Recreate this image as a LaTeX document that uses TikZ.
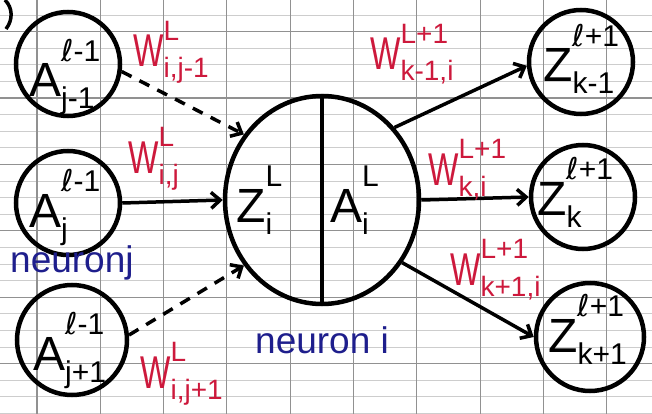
\documentclass[tikz,border=0pt]{standalone}
\usepackage{graphicx}
\usepackage{fontspec}
\setmainfont{Liberation Sans}
\newfontfamily\ellfont{DejaVu Sans}
\usetikzlibrary{arrows.meta,shapes.geometric}
\definecolor{inkred}{RGB}{205,25,60}
\definecolor{inkblue}{RGB}{30,30,140}
\definecolor{gridthin}{RGB}{205,205,205}
\definecolor{gridthick}{RGB}{145,145,145}
\newcommand\ELL{{\ellfont ℓ}}
\newcommand\nlab[3]{{\fontsize{48}{48}\selectfont #1}\raisebox{-12pt}{\fontsize{30}{30}\selectfont\begin{tabular}[b]{@{}l@{}}#2\\[17pt]#3\end{tabular}}}
\newcommand\wlab[2]{{\fontsize{46}{46}\selectfont\scalebox{0.7}[1]{W}}\raisebox{-11pt}{\fontsize{28}{28}\selectfont\begin{tabular}[b]{@{}l@{}}#1\\[9pt]#2\end{tabular}}}
\begin{document}
\begin{tikzpicture}[x=1pt,y=-1pt,
  neur/.style={circle,draw,line width=4.5pt,minimum size=104pt,inner sep=0pt},
  bigneur/.style={ellipse,draw,line width=4.5pt,minimum width=194pt,minimum height=208pt,inner sep=0pt},
  txt/.style={anchor=base west,inner sep=0pt},
  wtxt/.style={anchor=base west,inner sep=0pt,text=inkred},
  btxt/.style={anchor=base west,inner sep=0pt,text=inkblue,font=\fontsize{37}{37}\selectfont},
  conn/.style={line width=3.5pt,-{Straight Barb[length=9pt,width=16pt]}},
  dconn/.style={conn,dash pattern=on 11pt off 9pt}]
\useasboundingbox (0,0) rectangle (652,414);
% paper ruling
\foreach \i in {0,...,24} {\draw[gridthin,line width=0.9pt] (0,15+16.6*\i) -- (652,15+16.6*\i);}
\foreach \i in {0,...,5} {\draw[gridthick,line width=1.1pt] (0,31.6+66.4*\i) -- (652,31.6+66.4*\i);}
\foreach \i in {0,...,9} {\draw[gridthick,line width=1.1pt] (37+63.3*\i,0) -- (37+63.3*\i,414);}
% fragment of another circle at the top left
\draw[line width=3.5pt] (5,0) .. controls (13,8) and (13,20) .. (6,29);
% neurons
\node[neur] (a1) at (68,64) {};
\node[neur] (a2) at (68,203) {};
\node[neur,minimum size=110pt] (a3) at (72,340) {};
\node[bigneur] (big) at (322,200) {};
\draw[line width=3.5pt] (big.north) -- (big.south);
\node[neur] (z1) at (581,62) {};
\node[neur] (z2) at (583,197) {};
\node[neur,minimum size=108pt] (z3) at (590,337) {};
% neuron labels
\node[txt] (a1t) at (29,97) {\nlab{A}{\ELL-1}{j-1}};
\node[txt] (a2t) at (29,227) {\nlab{A}{\ELL-1}{j}};
\node[txt] (a3t) at (33,370) {\nlab{A}{\ELL-1}{j+1}};
\node[txt] (zt) at (236,222) {\nlab{Z}{L}{i}};
\node[txt] (at) at (330,222) {\nlab{A}{L}{i}};
\node[txt] (z1t) at (543,82) {\nlab{Z}{\ELL+1}{k-1}};
\node[txt] (z2t) at (537,215) {\nlab{Z}{\ELL+1}{k}};
\node[txt] (z3t) at (548,352) {\nlab{Z}{\ELL+1}{k+1}};
% connectors
\draw[dconn] (a1.-8) -- (big.140);
\draw[conn] (a2.east) -- (big.west);
\draw[dconn] (a3.5) -- (big.220);
\draw[conn] (big.45) -- (z1.184);
\draw[conn] (big.east) -- (z2.west);
\draw[conn] (big.-38) -- (z3.west);
% weights
\node[wtxt] (w1) at (133,67) {\wlab{L}{i,j-1}};
\node[wtxt] (w2) at (128,173) {\wlab{L}{i,j}};
\node[wtxt] (w3) at (140,388) {\wlab{L}{i,j+1}};
\node[wtxt] (w4) at (370,70) {\wlab{L+1}{k-1,i}};
\node[wtxt] (w5) at (428,185) {\wlab{L+1}{k,i}};
\node[wtxt] (w6) at (450,285) {\wlab{L+1}{k+1,i}};
% neuron names
\node[btxt] (nj) at (10,272) {neuronj};
\node[btxt] (ni) at (255,353) {neuron i};
\end{tikzpicture}
\end{document}
